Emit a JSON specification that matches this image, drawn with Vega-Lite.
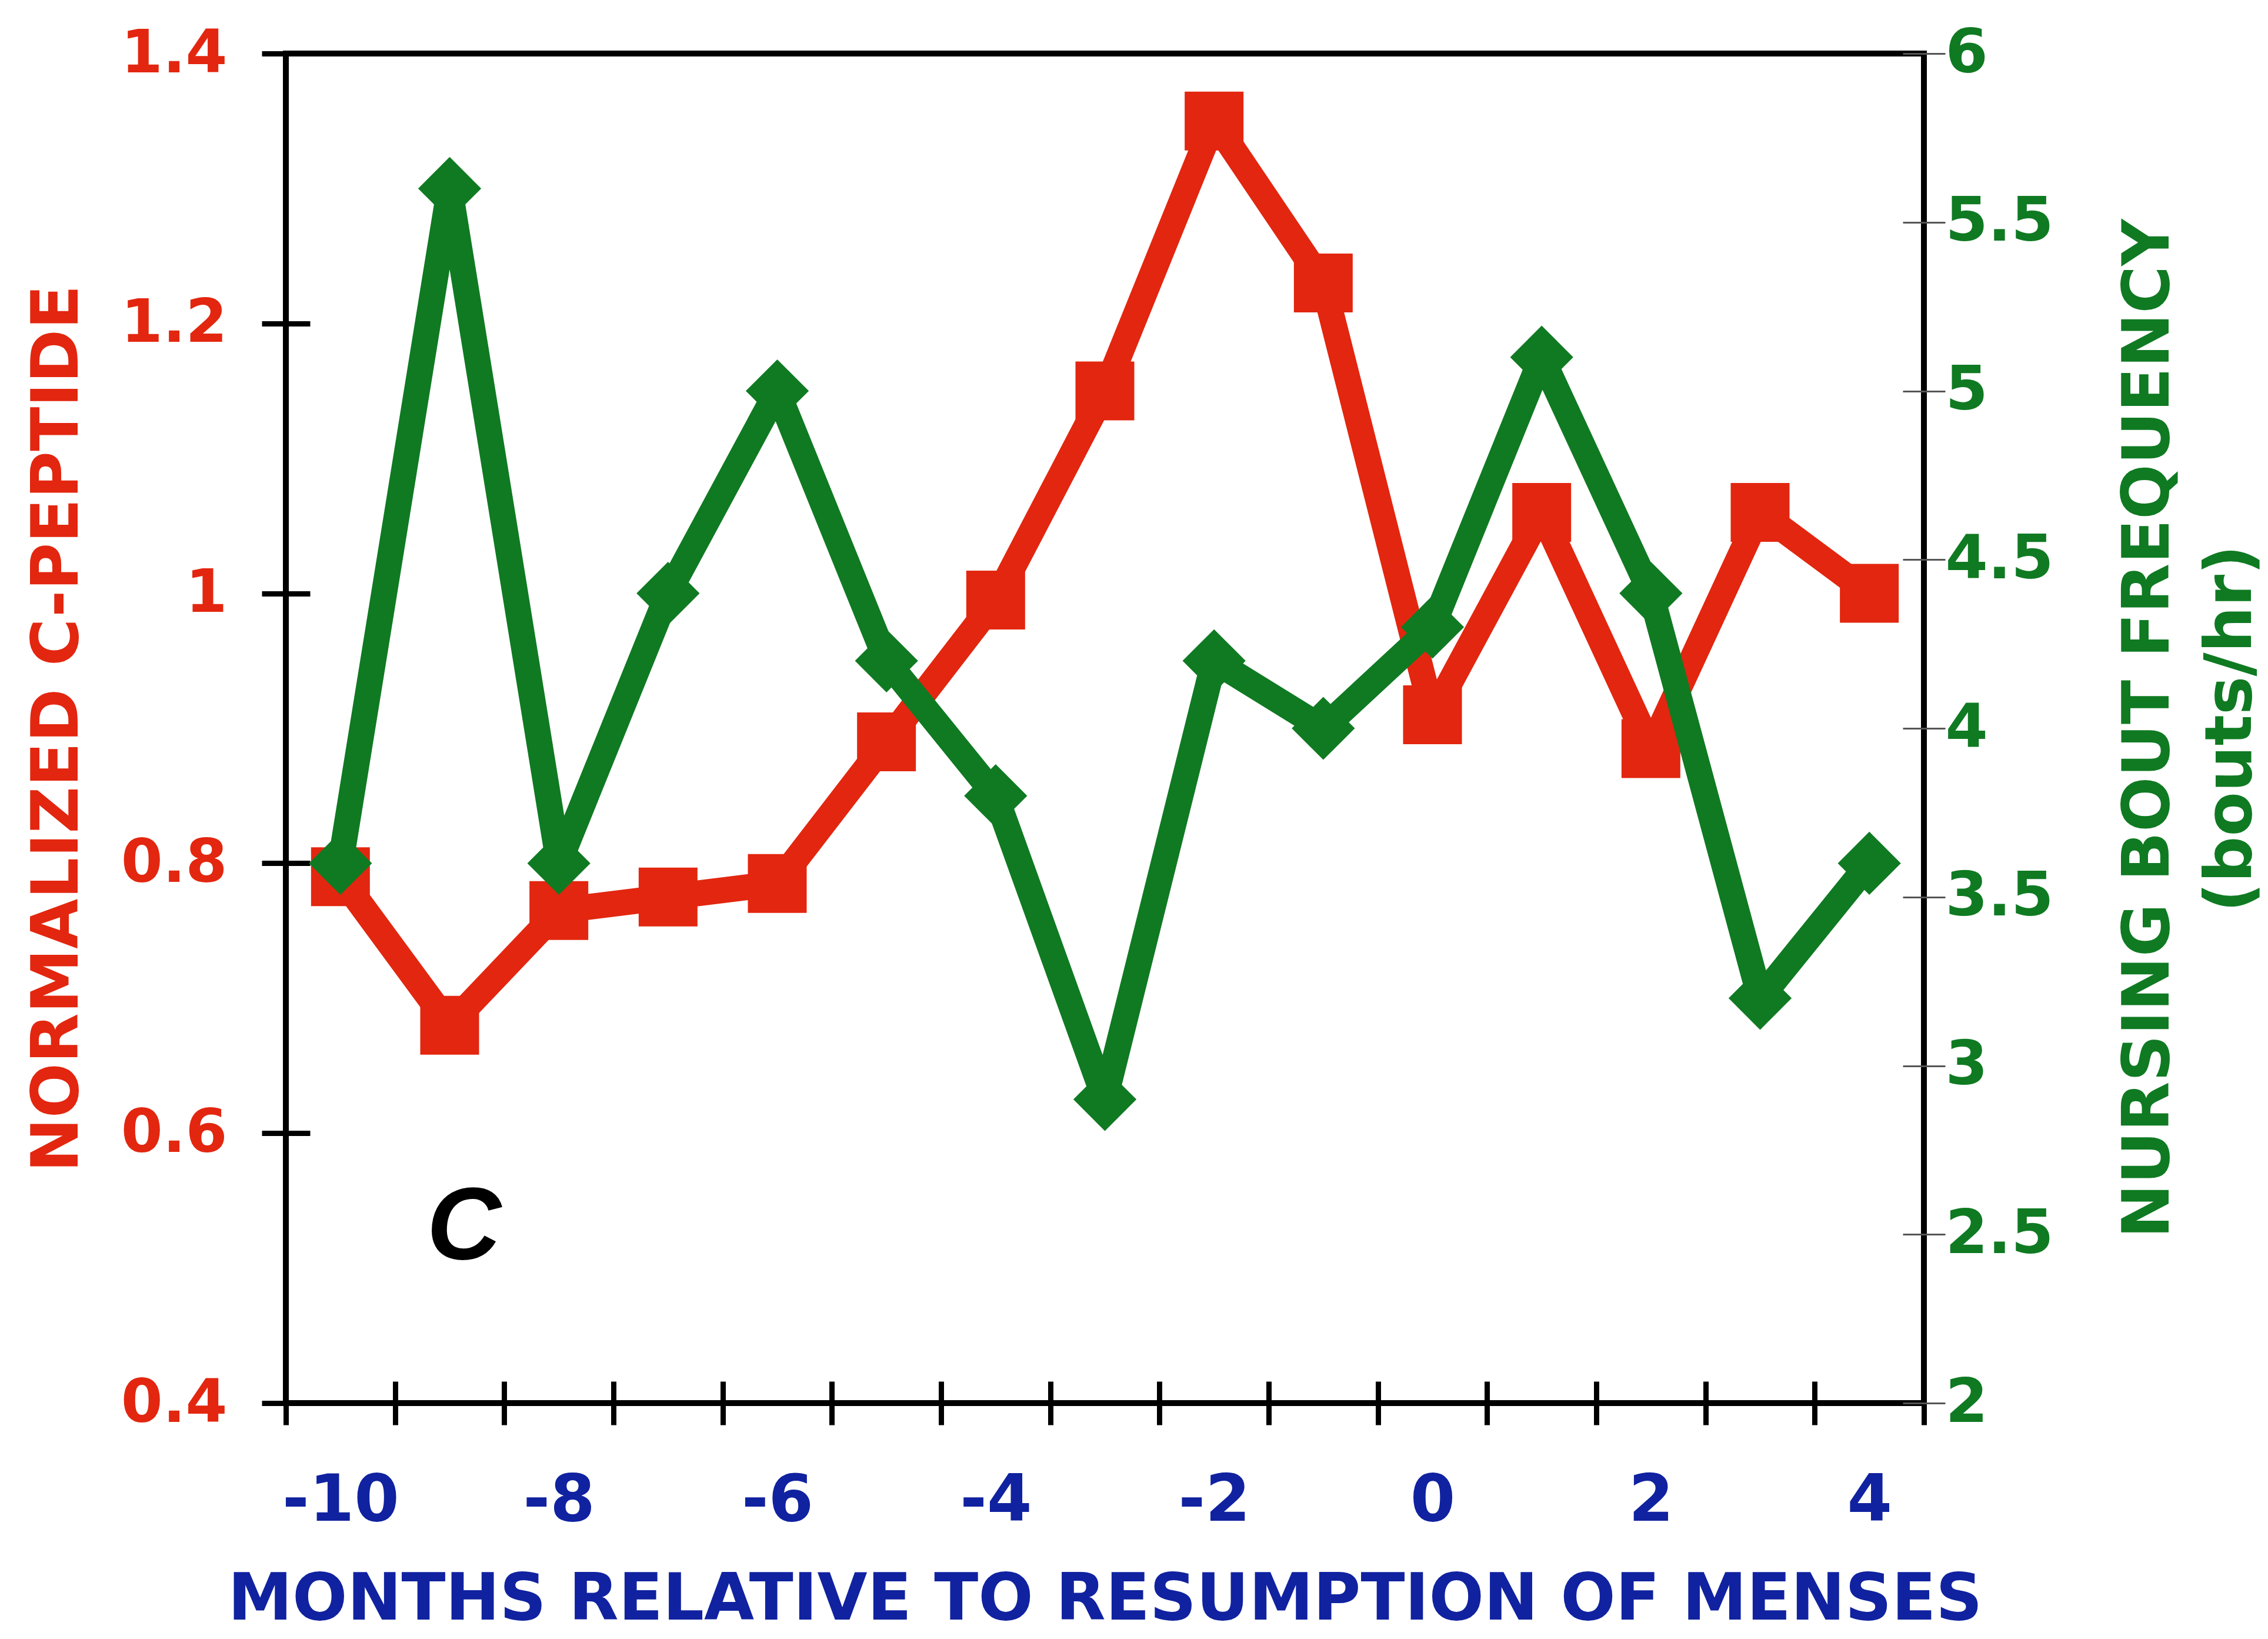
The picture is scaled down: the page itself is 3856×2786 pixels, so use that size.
{
  "$schema": "https://vega.github.io/schema/vega-lite/v6.json",
  "width": 2785,
  "height": 2294,
  "autosize": {"type": "none"},
  "padding": {"left": 486, "top": 91, "right": 585, "bottom": 401},
  "background": "white",
  "config": {
    "view": {"stroke": "black", "strokeWidth": 10},
    "axis": {
      "grid": false,
      "domain": false,
      "labelFont": "DejaVu Sans",
      "labelFontWeight": "bold",
      "titleFont": "DejaVu Sans",
      "titleFontWeight": "bold",
      "labelFlush": false,
      "labelOverlap": false,
      "labelLimit": 2000
    }
  },
  "data": {
    "values": [
      {"month": -10, "cpep": 0.79, "nursing": 3.6},
      {"month": -9, "cpep": 0.68, "nursing": 5.6},
      {"month": -8, "cpep": 0.765, "nursing": 3.6},
      {"month": -7, "cpep": 0.775, "nursing": 4.4},
      {"month": -6, "cpep": 0.785, "nursing": 5.0},
      {"month": -5, "cpep": 0.89, "nursing": 4.2},
      {"month": -4, "cpep": 0.995, "nursing": 3.8},
      {"month": -3, "cpep": 1.15, "nursing": 2.9},
      {"month": -2, "cpep": 1.35, "nursing": 4.2},
      {"month": -1, "cpep": 1.23, "nursing": 4.0},
      {"month": 0, "cpep": 0.91, "nursing": 4.3},
      {"month": 1, "cpep": 1.06, "nursing": 5.1},
      {"month": 2, "cpep": 0.885, "nursing": 4.4},
      {"month": 3, "cpep": 1.06, "nursing": 3.2},
      {"month": 4, "cpep": 1.0, "nursing": 3.6}
    ]
  },
  "layer": [
    {
      "encoding": {
        "x": {
          "field": "month",
          "type": "quantitative",
          "scale": {"domain": [-10.5, 4.5], "nice": false, "zero": false},
          "axis": {
            "orient": "bottom",
            "values": [-10, -8, -6, -4, -2, 0, 2, 4],
            "labelExpr": "'' + datum.value",
            "ticks": false,
            "tickSize": 0,
            "labelPadding": 112,
            "labelFontSize": 110,
            "labelColor": "#1022A0",
            "title": "MONTHS RELATIVE TO RESUMPTION OF MENSES",
            "titleFontSize": 110,
            "titleColor": "#1022A0",
            "titlePadding": 80
          }
        },
        "y": {
          "field": "cpep",
          "type": "quantitative",
          "scale": {"domain": [0.4, 1.4], "nice": false, "zero": false},
          "axis": {
            "orient": "left",
            "values": [0.4, 0.6, 0.8, 1.0, 1.2, 1.4],
            "format": "~g",
            "offset": -41,
            "tickSize": 82,
            "tickWidth": 9,
            "tickColor": "black",
            "labelPadding": 59,
            "labelFontSize": 102,
            "labelColor": "#E3260F",
            "title": "NORMALIZED C-PEPTIDE",
            "titleFontSize": 110,
            "titleColor": "#E3260F",
            "titlePadding": 173
          }
        }
      },
      "layer": [
        {"mark": {"type": "line", "color": "#E3260F", "strokeWidth": 44, "strokeJoin": "round"}},
        {"mark": {"type": "point", "shape": "square", "filled": true, "size": 10000, "color": "#E3260F", "opacity": 1}}
      ]
    },
    {
      "encoding": {
        "x": {
          "field": "month",
          "type": "quantitative",
          "scale": {"domain": [-10.5, 4.5], "nice": false, "zero": false},
          "axis": {
            "orient": "bottom",
            "values": [-10.5, -9.5, -8.5, -7.5, -6.5, -5.5, -4.5, -3.5, -2.5, -1.5, -0.5, 0.5, 1.5, 2.5, 3.5, 4.5],
            "labels": false,
            "offset": -37,
            "tickSize": 74,
            "tickWidth": 9,
            "tickColor": "black",
            "title": null
          }
        },
        "y": {
          "field": "nursing",
          "type": "quantitative",
          "scale": {"domain": [2, 6], "nice": false, "zero": false},
          "axis": {
            "orient": "right",
            "values": [2, 2.5, 3, 3.5, 4, 4.5, 5, 5.5, 6],
            "format": "~g",
            "offset": -36,
            "tickSize": 72,
            "tickWidth": 3,
            "tickColor": "#555555",
            "labelPadding": 0,
            "labelFontSize": 104,
            "labelColor": "#0F7A22",
            "title": ["NURSING BOUT FREQUENCY", "(bouts/hr)"],
            "titleAngle": 270,
            "titleBaseline": "top",
            "titleLineHeight": 140,
            "titleFontSize": 110,
            "titleColor": "#0F7A22",
            "titlePadding": 24
          }
        }
      },
      "layer": [
        {"mark": {"type": "line", "color": "#0F7A22", "strokeWidth": 44, "strokeJoin": "round"}},
        {"mark": {"type": "point", "shape": "diamond", "filled": true, "size": 11500, "color": "#0F7A22", "opacity": 1}}
      ]
    },
    {
      "data": {"values": [{"x": -8.87, "y": 0.53, "label": "C"}]},
      "mark": {"type": "text", "font": "Liberation Sans", "fontStyle": "italic", "fontWeight": "bold", "fontSize": 175, "color": "black", "align": "center", "baseline": "middle"},
      "encoding": {
        "x": {"field": "x", "type": "quantitative", "scale": {"domain": [-10.5, 4.5], "nice": false, "zero": false}, "axis": null},
        "y": {"field": "y", "type": "quantitative", "scale": {"domain": [0.4, 1.4], "nice": false, "zero": false}, "axis": null},
        "text": {"field": "label"}
      }
    }
  ],
  "resolve": {"scale": {"y": "independent"}, "axis": {"x": "independent", "y": "independent"}}
}
